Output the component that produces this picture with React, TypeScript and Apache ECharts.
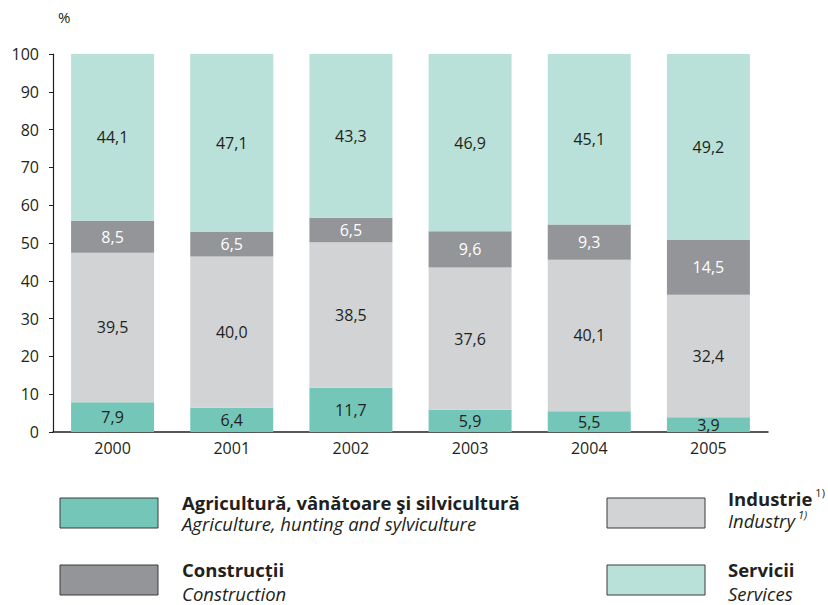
import React, { useEffect, useRef } from "react";
import * as echarts from "echarts";

const years = ["2000", "2001", "2002", "2003", "2004", "2005"];
const agriculture = [7.9, 6.4, 11.7, 5.9, 5.5, 3.9];
const industry = [39.5, 40.0, 38.5, 37.6, 40.1, 32.4];
const construction = [8.5, 6.5, 6.5, 9.6, 9.3, 14.5];
const services = [44.1, 47.1, 43.3, 46.9, 45.1, 49.2];

const FONT = "'Open Sans', sans-serif";
const DARK = "#231f20";
const C_AGR = "#74c6b8";
const C_IND = "#d2d3d5";
const C_CON = "#939598";
const C_SER = "#b9e1d9";

const fmt = (p: any) => Number(p.value).toFixed(1).replace(".", ",");

function mkSeries(name: string, data: number[], color: string, labelColor: string) {
  return {
    name,
    type: "bar",
    stack: "total",
    data,
    barWidth: 83,
    itemStyle: { color },
    label: {
      show: true,
      position: "inside",
      formatter: fmt,
      color: labelColor,
      fontFamily: FONT,
      fontSize: 16,
    },
  };
}

export default function App() {
  const ref = useRef<HTMLDivElement>(null);
  useEffect(() => {
    document.body.style.margin = "0";
    const chart = echarts.init(ref.current!, null, { renderer: "svg" });
    const box = (x: number, y: number, color: string) => ({
      type: "rect",
      shape: { x, y, width: 98, height: 30 },
      style: { fill: color, stroke: "#3a3a3a", lineWidth: 1 },
    });
    const block = (x: number, y: number, text: string, lh: number) => ({
      type: "text",
      x,
      y,
      style: {
        text,
        fill: DARK,
        verticalAlign: "top",
        rich: {
          b: { fontFamily: FONT, fontWeight: "bold", fontSize: 18.5, lineHeight: lh, fill: DARK, color: DARK },
          i: { fontFamily: FONT, fontStyle: "italic", fontSize: 18.5, lineHeight: lh, fill: DARK, color: DARK },
          sb: { fontFamily: FONT, fontSize: 11, lineHeight: 12, verticalAlign: "top", padding: [0, 0, 0, 3], fill: DARK, color: DARK },
          si: { fontFamily: FONT, fontStyle: "italic", fontSize: 11, lineHeight: 12, verticalAlign: "top", padding: [0, 0, 0, 3], fill: DARK, color: DARK },
        },
      },
    });
    chart.setOption({
      animation: false,
      grid: { left: 53, right: 60, top: 54, bottom: 173 },
      xAxis: {
        type: "category",
        data: years,
        axisLine: { show: true, lineStyle: { color: DARK, width: 1.5 } },
        axisTick: { show: false },
        axisLabel: { color: DARK, fontFamily: FONT, fontSize: 16, margin: 8 },
      },
      yAxis: {
        type: "value",
        min: 0,
        max: 100,
        interval: 10,
        splitLine: { show: false },
        axisLine: { show: true, lineStyle: { color: DARK, width: 1.2 } },
        axisTick: { show: true, length: 4, lineStyle: { color: DARK } },
        axisLabel: { color: DARK, fontFamily: FONT, fontSize: 16, margin: 14 },
      },
      series: [
        mkSeries("Agricultură", agriculture, C_AGR, DARK),
        mkSeries("Industrie", industry, C_IND, DARK),
        mkSeries("Construcții", construction, C_CON, "#ffffff"),
        mkSeries("Servicii", services, C_SER, DARK),
      ],
      graphic: [
        { type: "text", x: 58, y: 17, style: { text: "%", fill: DARK, font: `15px ${FONT}`, textVerticalAlign: "middle" } },
        box(60, 498, C_AGR),
        box(60, 565, C_CON),
        box(607, 498, C_IND),
        box(607, 565, C_SER),
        block(182, 492, "{b|Agricultură, vânătoare şi silvicultură}\n{i|Agriculture, hunting and sylviculture}", 21),
        block(182, 558, "{b|Construcții}\n{i|Construction}", 23.5),
        block(728, 487, "{b|Industrie}{sb|1)}\n{i|Industry}{si|1)}", 22),
        block(728, 558, "{b|Servicii}\n{i|Services}", 23.5),
      ],
    });
    return () => chart.dispose();
  }, []);
  return <div ref={ref} style={{ width: 828, height: 605 }} />;
}
